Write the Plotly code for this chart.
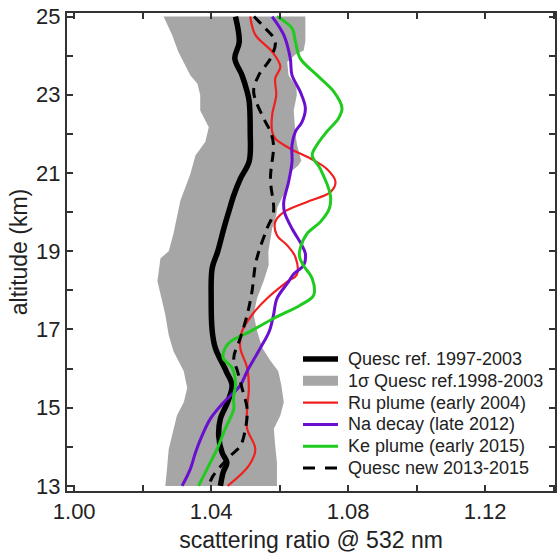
import plotly.graph_objects as go

# ---------------- data (altitude km, scattering ratio) ----------------
ref_alt = [25.0, 24.35, 23.93, 23.5, 23.08, 22.83, 22.06, 21.3, 20.85, 20.43, 20.0, 19.58,
           18.99, 18.57, 17.8, 16.96, 16.53, 15.93, 15.57, 15.14, 14.72, 14.28, 13.85, 13.6,
           13.35, 13.0]
ref_sr = [1.0471, 1.0482, 1.0469, 1.0490, 1.0505, 1.0511, 1.0514, 1.0511, 1.0485, 1.0466,
          1.0451, 1.0437, 1.0419, 1.0403, 1.0400, 1.0403, 1.0412, 1.0444, 1.0461, 1.0448,
          1.0427, 1.0422, 1.0432, 1.0446, 1.0435, 1.0427]

sig_left_alt = [25.0, 24.53, 24.1, 23.5, 23.28, 22.99, 22.6, 22.17, 21.8, 21.45, 20.97, 20.29,
                19.45, 19.0, 18.82, 18.24, 17.38, 16.86, 16.44, 15.93, 15.5, 15.14, 14.8,
                14.28, 13.94, 13.43, 13.0]
sig_left_sr = [1.0261, 1.0286, 1.0304, 1.0339, 1.0360, 1.0368, 1.0368, 1.0393, 1.0383, 1.0354,
               1.0339, 1.0310, 1.0290, 1.0276, 1.0252, 1.0243, 1.0266, 1.0276, 1.0290, 1.0320,
               1.0330, 1.0320, 1.0300, 1.0286, 1.0276, 1.0271, 1.0266]
sig_right_alt = [25.0, 24.36, 24.13, 24.03, 23.84, 23.5, 23.2, 22.99, 22.6, 21.99, 21.7, 21.31,
                 21.2, 21.02, 20.63, 20.43, 20.12, 19.92, 19.58, 18.99, 18.65, 18.23, 17.8,
                 17.38, 16.96, 16.53, 16.2, 15.93, 15.57, 15.14, 14.8, 14.46, 14.03, 13.6, 13.0]
sig_right_sr = [1.0675, 1.0675, 1.0670, 1.0646, 1.0622, 1.0626, 1.0649, 1.0650, 1.0641, 1.0646,
                1.0651, 1.0663, 1.0655, 1.0631, 1.0622, 1.0612, 1.0593, 1.0590, 1.0578, 1.0567,
                1.0568, 1.0553, 1.0534, 1.0524, 1.0534, 1.0549, 1.0573, 1.0596, 1.0605, 1.0612,
                1.0602, 1.0583, 1.0587, 1.0592, 1.0592]

ru_alt = [25.0, 24.53, 24.1, 23.72, 23.42, 22.99, 22.48, 22.06, 21.88, 21.62, 21.37, 21.1,
          20.77, 20.51, 20.26, 20.0, 19.75, 19.41, 19.15, 18.85, 18.4, 18.22, 17.79, 17.37,
          16.95, 16.53, 16.02, 15.5, 14.97, 14.46, 13.94, 13.52, 13.0]
ru_sr = [1.0514, 1.0529, 1.0578, 1.0602, 1.0587, 1.0590, 1.0578, 1.0578, 1.0587, 1.0631,
         1.0690, 1.0738, 1.0763, 1.0748, 1.0680, 1.0612, 1.0587, 1.0592, 1.0622, 1.0646,
         1.0650, 1.0622, 1.0563, 1.0519, 1.0490, 1.0485, 1.0505, 1.0510, 1.0505, 1.0505,
         1.0529, 1.0510, 1.0448]

na_alt = [25.0, 24.53, 23.93, 23.5, 23.08, 22.66, 22.3, 22.06, 21.72, 21.28, 20.77, 20.26,
          20.0, 19.58, 19.15, 18.94, 18.64, 18.42, 18.22, 17.79, 17.37, 16.96, 16.53, 15.93,
          15.57, 15.14, 14.72, 14.28, 13.85, 13.43, 13.0]
na_sr = [1.0578, 1.0612, 1.0631, 1.0636, 1.0660, 1.0675, 1.0665, 1.0646, 1.0636, 1.0636,
         1.0626, 1.0612, 1.0614, 1.0636, 1.0665, 1.0675, 1.0670, 1.0641, 1.0626, 1.0592,
         1.0582, 1.0570, 1.0544, 1.0505, 1.0485, 1.0437, 1.0398, 1.0373, 1.0354, 1.0339,
         1.0315]

ke_alt = [25.0, 24.7, 24.36, 23.93, 23.5, 23.08, 22.66, 22.4, 22.06, 21.72, 21.45, 21.1,
          20.43, 20.09, 19.75, 19.45, 19.07, 18.85, 18.64, 18.3, 17.87, 17.62, 17.28, 16.95,
          16.69, 16.53, 16.27, 16.02, 15.6, 15.25, 14.97, 14.46, 13.94, 13.52, 13.0]
ke_sr = [1.0592, 1.0636, 1.0646, 1.0660, 1.0709, 1.0758, 1.0782, 1.0772, 1.0738, 1.0709,
         1.0695, 1.0719, 1.0748, 1.0745, 1.0719, 1.0680, 1.0660, 1.0658, 1.0669, 1.0695,
         1.0699, 1.0660, 1.0582, 1.0514, 1.0456, 1.0441, 1.0435, 1.0461, 1.0471, 1.0465,
         1.0466, 1.0441, 1.0417, 1.0393, 1.0363]

new_alt = [25.0, 24.78, 24.36, 23.93, 23.5, 23.08, 22.4, 22.06, 21.72, 20.85, 20.0, 19.58,
           18.99, 18.65, 17.96, 17.37, 16.78, 16.27, 15.93, 15.5, 14.97, 14.46, 14.02, 13.76,
           13.25, 13.0]
new_sr = [1.0525, 1.0549, 1.0587, 1.0573, 1.0539, 1.0524, 1.0553, 1.0573, 1.0582, 1.0573,
          1.0582, 1.0563, 1.0539, 1.0529, 1.0519, 1.0505, 1.0485, 1.0466, 1.0477, 1.0490,
          1.0505, 1.0500, 1.0485, 1.0455, 1.0405, 1.0393]

x_tickvals = [1.00, 1.02, 1.04, 1.06, 1.08, 1.10, 1.12, 1.14]
x_ticktext = ["1.00", "", "1.04", "", "1.08", "", "1.12", ""]
y_tickvals = [13, 14, 15, 16, 17, 18, 19, 20, 21, 22, 23, 24, 25]
y_ticktext = ["13", "", "15", "", "17", "", "19", "", "21", "", "23", "", "25"]

legend_labels = ["Quesc ref. 1997-2003", "1σ Quesc ref.1998-2003", "Ru plume (early 2004)",
                 "Na decay (late 2012)", "Ke plume (early 2015)", "Quesc new 2013-2015"]

# ---------------- styles ----------------
FONT = "Liberation Sans, Arial, sans-serif"
GRAY = "#a6a6a6"
RED = "#f02020"
PURPLE = "#6a0fd0"
GREEN = "#1ecb1e"
legend_styles = [
    dict(kind="line", color="black", width=5.5, dash="solid"),
    dict(kind="rect", color=GRAY),
    dict(kind="line", color=RED, width=2.2, dash="solid"),
    dict(kind="line", color=PURPLE, width=3, dash="solid"),
    dict(kind="line", color=GREEN, width=3, dash="solid"),
    dict(kind="line", color="black", width=3, dash="12px,10px"),
]

fig = go.Figure()

fig.add_trace(go.Scatter(
    x=sig_left_sr + sig_right_sr[::-1], y=sig_left_alt + sig_right_alt[::-1],
    fill="toself", fillcolor=GRAY, line=dict(color=GRAY, width=0),
    mode="lines", name=legend_labels[1], hoverinfo="skip"))
fig.add_trace(go.Scatter(x=ref_sr, y=ref_alt, mode="lines", name=legend_labels[0],
                         line=dict(color="black", width=5.5, shape="spline")))
fig.add_trace(go.Scatter(x=ru_sr, y=ru_alt, mode="lines", name=legend_labels[2],
                         line=dict(color=RED, width=2.2, shape="spline")))
fig.add_trace(go.Scatter(x=na_sr, y=na_alt, mode="lines", name=legend_labels[3],
                         line=dict(color=PURPLE, width=3, shape="spline")))
fig.add_trace(go.Scatter(x=ke_sr, y=ke_alt, mode="lines", name=legend_labels[4],
                         line=dict(color=GREEN, width=3, shape="spline")))
fig.add_trace(go.Scatter(x=new_sr, y=new_alt, mode="lines", name=legend_labels[5],
                         line=dict(color="black", width=3, dash="10px,7px", shape="spline")))

# ---------------- compact legend (keys + labels, paper coordinates) ----------------
W, H = 557, 555
ML, MR, MT, MB = 67, 2, 13, 64
pw, ph = W - ML - MR, H - MT - MB


def px2paper_x(px):
    return (px - ML) / pw


def py2paper_y(py):
    return (H - MB - py) / ph


row0, row_gap = 359, 21.8
key_x0, key_x1, text_x = 303, 338, 346
for i, (label, st) in enumerate(zip(legend_labels, legend_styles)):
    yc = row0 + i * row_gap
    if st["kind"] == "rect":
        fig.add_shape(type="rect", xref="paper", yref="paper",
                      x0=px2paper_x(key_x0), x1=px2paper_x(key_x1),
                      y0=py2paper_y(yc + 5), y1=py2paper_y(yc - 5),
                      fillcolor=st["color"], line=dict(width=0), layer="above")
    else:
        fig.add_shape(type="line", xref="paper", yref="paper",
                      x0=px2paper_x(key_x0), x1=px2paper_x(key_x1),
                      y0=py2paper_y(yc), y1=py2paper_y(yc),
                      line=dict(color=st["color"], width=st["width"], dash=st["dash"]),
                      layer="above")
    fig.add_annotation(text=label, xref="paper", yref="paper", x=px2paper_x(text_x),
                       y=py2paper_y(yc), xanchor="left", yanchor="middle", showarrow=False,
                       font=dict(family=FONT, size=18, color="#222222"))

axis_common = dict(showline=True, linewidth=2, linecolor="#333333", mirror="ticks",
                   ticks="inside", ticklen=6, tickwidth=1.5, tickcolor="#333333",
                   showgrid=False, zeroline=False, automargin=False,
                   tickfont=dict(family=FONT, size=22, color="#222222"))

fig.update_layout(
    width=W, height=H,
    margin=dict(l=ML, r=MR, t=MT, b=MB, autoexpand=False),
    paper_bgcolor="white", plot_bgcolor="white",
    font=dict(family=FONT, color="#222222"),
    showlegend=False,
    xaxis=dict(range=[0.9979, 1.1404], tickmode="array", tickvals=x_tickvals,
               ticktext=x_ticktext,
               title=dict(text="scattering ratio @ 532 nm", font=dict(family=FONT, size=23),
                          standoff=8),
               **axis_common),
    yaxis=dict(range=[12.87, 25.09], tickmode="array", tickvals=y_tickvals,
               ticktext=y_ticktext,
               title=dict(text="altitude (km)", font=dict(family=FONT, size=23), standoff=2),
               **axis_common),
)

fig.write_html("out.html", config={"displayModeBar": False},
               post_script="document.body.style.margin='0px';")
